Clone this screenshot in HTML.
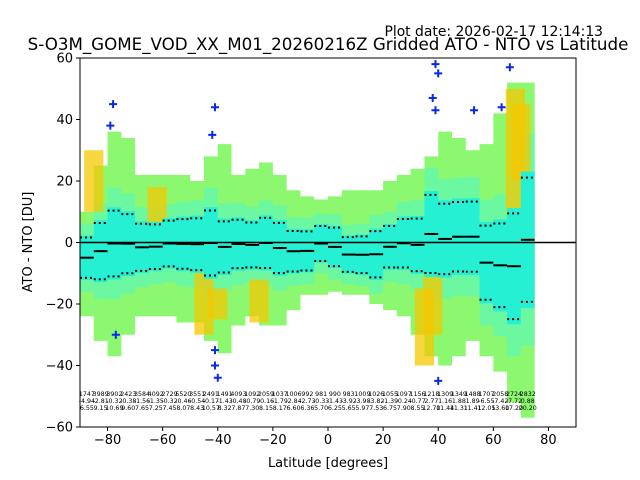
<!DOCTYPE html>
<html><head><meta charset="utf-8"><style>
body{margin:0;background:#fff;}
svg{display:block;font-family:"DejaVu Sans","Liberation Sans",sans-serif;}
</style></head><body>
<svg id="chart" width="640" height="480" viewBox="0 0 640 480">
<rect x="0" y="0" width="640" height="480" fill="#fff"/>
<text x="603" y="36" font-size="13.9" text-anchor="end">Plot date: 2026-02-17 12:14:13</text>
<text x="328" y="50" font-size="16.7" text-anchor="middle">S-O3M_GOME_VOD_XX_M01_20260216Z Gridded ATO - NTO vs Latitude</text>
<g id="plot"></g>
<text x="328" y="467" font-size="13" text-anchor="middle">Latitude [degrees]</text>
<text x="0" y="0" font-size="13" text-anchor="middle" transform="translate(32,242) rotate(-90)">ATO - NTO [DU]</text>
</svg>
<script>
const binStart=[-90,-85,-80,-75,-70,-65,-60,-55,-50,-45,-40,-35,-30,-25,-20,-15,-10,-5,0,5,10,15,20,25,30,35,40,45,50,55,60,65,70];
const counts=["1747","3989","3902","2423","3584","4092","2729","5520","3551","2491","1491","4093","1092","2059","1037","1006","992","981","990","983","1009","1026","1055","1097","1156","1218","1309","1349","1488","1707","2058","2724","2832"];
const means=[-4.94,-2.81,-0.32,-0.38,-1.56,-1.35,-0.32,-0.46,-0.54,-0.17,-1.43,-0.48,-0.79,-0.16,-1.79,-2.84,-2.73,-0.33,-1.43,-3.92,-3.98,-3.82,-1.39,-0.24,-0.77,2.77,1.16,1.88,1.89,-6.55,-7.42,-7.72,0.88];
const stds=[6.55,9.15,10.69,9.60,7.65,7.25,7.45,8.07,8.43,10.57,8.32,7.87,7.30,8.15,8.17,6.60,6.36,5.70,6.25,5.65,5.97,7.53,6.75,7.90,8.55,12.70,11.44,11.31,11.41,12.05,13.60,17.20,20.20];
const cloudTop=[10,25,36,34,22,22,22,22,20,28,32,22,24,26,22,17,15,14,15,17,17,17,20,22,24,28,36,34,30,32,42,52,52];
const cloudBottom=[-24,-32,-37,-30,-24,-24,-24,-26,-26,-32,-36,-27,-24,-27,-27,-22,-17,-17,-16,-17,-17,-20,-22,-24,-30,-37,-40,-37,-32,-37,-42,-52,-57];
const patchLat=[-85,-62,-45,-40,-25,35,38,68,70];
const patchLo=[10,5,-30,-25,-26,-40,-30,10,20];
const patchHi=[30,18,-10,-15,-12,-15,-10,50,45];
const outlierLat=[-78,-79,-77,-41,-42,-40,-41,39,40,39,38,53,63,66,40,-41];
const outlierVal=[45,38,-30,44,35,-44,-40,58,55,43,47,43,44,57,-45,-35];
const xTicks=[-80,-60,-40,-20,0,20,40,60,80];
const yTicks=[-60,-40,-20,0,20,40,60];
const L=80,R=576,T=58,B=427;
const X=v=>L+(v+90)/180*(R-L);
const Y=v=>T+(60-v)/120*(B-T);
const NS="http://www.w3.org/2000/svg";
const g=document.getElementById('plot');
function mk(tag,attrs,parent){const e=document.createElementNS(NS,tag);for(const k in attrs)e.setAttribute(k,attrs[k]);(parent||g).appendChild(e);return e;}
const defs=mk('defs',{});
const cp=mk('clipPath',{id:'clip'},defs);mk('rect',{x:L,y:T,width:R-L,height:B-T},cp);
const layer=mk('g',{'clip-path':'url(#clip)'});


function band(lo,hi,color,name){
  let up='',dn='';
  binStart.forEach((b,i)=>{up+=(i?'L':'M')+X(b)+','+Y(hi(i))+'L'+X(b+5)+','+Y(hi(i));});
  for(let i=binStart.length-1;i>=0;i--){const b=binStart[i];dn+='L'+X(b+5)+','+Y(lo(i))+'L'+X(b)+','+Y(lo(i));}
  const p=mk('path',{d:up+dn+'Z',fill:color},layer);
  
  
}
band(i=>cloudBottom[i],i=>cloudTop[i],'#8cf870','cloud-outer');
band(i=>means[i]-1.7*stds[i],i=>means[i]+1.7*stds[i],'#6cf8a0','cloud-green');
patchLat.forEach((la,i)=>{
  const r=mk('rect',{x:X(la-3.5),y:Y(patchHi[i]),width:X(la+3.5)-X(la-3.5),height:Y(patchLo[i])-Y(patchHi[i]),fill:'#f6c800',opacity:0.75},layer);
  
  
});
band(i=>means[i]-1.1*stds[i],i=>means[i]+1.1*stds[i],'#26f0d4','cloud-core');
outlierLat.forEach((la,i)=>{
  const cx=X(la),cy=Y(outlierVal[i]);
  const p=mk('path',{d:`M${cx-4},${cy}H${cx+4}M${cx},${cy-4}V${cy+4}`,stroke:'#0a28e8','stroke-width':2},layer);
  
  
});
const z=mk('line',{x1:L,x2:R,y1:Y(0),y2:Y(0),stroke:'#000','stroke-width':1.5});


binStart.forEach((b,i)=>{
  const x1=X(b),x2=X(b+5);
  const m=mk('line',{x1,x2,y1:Y(means[i]),y2:Y(means[i]),stroke:'#000','stroke-width':2});
  
  
  [means[i]+stds[i],means[i]-stds[i]].forEach(v=>{
    const s=mk('line',{x1,x2,y1:Y(v),y2:Y(v),stroke:'#000','stroke-width':2,'stroke-dasharray':'2,3'});
    
    
  });
  const cx=(x1+x2)/2;
  [[counts[i],396],[means[i].toFixed(2),403],[stds[i].toFixed(2),410]].forEach(([t,y])=>{
    const e=mk('text',{x:cx,y,'font-size':6.3,'text-anchor':'middle'});e.textContent=t;
    
    
  });
});
const fr=mk('rect',{x:L,y:T,width:R-L,height:B-T,fill:'none',stroke:'#000','stroke-width':1});


xTicks.forEach(v=>{
  const t=mk('line',{x1:X(v),x2:X(v),y1:B,y2:B+4,stroke:'#000'});
  
  
  const e=mk('text',{x:X(v),y:B+17,'font-size':13,'text-anchor':'middle'});e.textContent=v<0?'\u2212'+(-v):v;
  
  
});
yTicks.forEach(v=>{
  const t=mk('line',{x1:L-4,x2:L,y1:Y(v),y2:Y(v),stroke:'#000'});
  
  
  const e=mk('text',{x:L-7,y:Y(v)+4.5,'font-size':13,'text-anchor':'end'});e.textContent=v<0?'\u2212'+(-v):v;
  
  
});
</script>
</body></html>
